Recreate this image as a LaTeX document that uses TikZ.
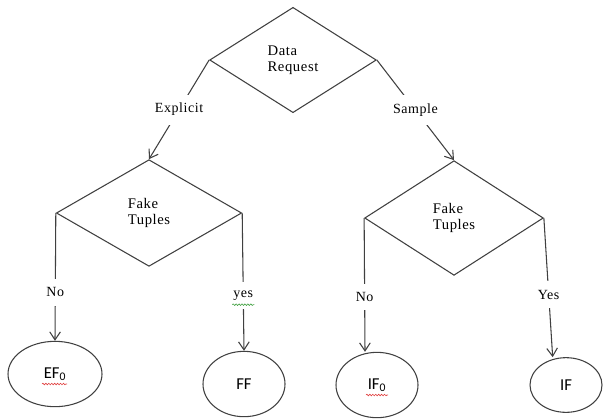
\documentclass[tikz,border=0pt]{standalone}
\usepackage{fontspec}
\setmainfont{Liberation Serif}[LetterSpace=4]
\newfontfamily\leaffont{Carlito}
\usetikzlibrary{shapes.geometric, arrows.meta, decorations.pathmorphing}
\definecolor{linegray}{HTML}{404040}
\definecolor{spellred}{HTML}{E04040}
\definecolor{spellgreen}{HTML}{40A040}
\tikzset{
  decision/.style={diamond, draw=linegray, line width=0.8pt, inner sep=0pt, align=left, font=\fontsize{11}{12}\selectfont},
  leaf/.style={ellipse, draw=linegray, line width=0.8pt, inner sep=0pt, font=\leaffont\fontsize{12.5}{13}\selectfont},
  flow/.style={draw=linegray, line width=0.8pt, -{Straight Barb[length=6pt,width=8pt]}},
  branch/.style={fill=white, inner xsep=2pt, inner ysep=6.5pt, font=\fontsize{10.5}{12}\selectfont},
  squiggle/.style={decorate, decoration={snake, amplitude=0.6pt, segment length=2.2pt}, line width=0.45pt}
}

\begin{document}
\begin{tikzpicture}[x=0.75pt, y=-0.75pt]
  \useasboundingbox (0,0) rectangle (603,419);
  % Entscheidungen
  \node[decision, minimum width=125pt, minimum height=79pt] (req) at (293,60) {Data\\Request};
  \node[decision, minimum width=139pt, minimum height=80pt] (ftleft) at (149,213) {Fake\\Tuples};
  \node[decision, minimum width=134pt, minimum height=86pt] (ftright) at (454,218) {Fake\\Tuples};
  % Ergebnisse
  \node[leaf, minimum width=70.5pt, minimum height=49pt] (efnull) at (55,374) {EF\textsubscript{0}};
  \node[leaf, minimum width=61.5pt, minimum height=49pt] (ff) at (244,384) {FF};
  \node[leaf, minimum width=61.5pt, minimum height=49pt] (ifnull) at (377,385) {IF\textsubscript{0}};
  \node[leaf, minimum width=54pt, minimum height=41pt] (ifleaf) at (566,385) {IF};
  % Verbindungen
  \draw[flow] (req.west) -- node[branch] {Explicit} (ftleft.north);
  \draw[flow] (req.east) -- node[branch] {Sample} (ftright.north);
  \draw[flow] (ftleft.west) -- node[branch, pos=0.62] {No} (efnull.north);
  \draw[flow] (ftleft.east) -- node[branch, pos=0.6] (yeslbl) {yes} (ff.north);
  \draw[flow] (ftright.west) -- node[branch, pos=0.59] {No} ([xshift=-9pt]ifnull.north);
  \draw[flow] (ftright.east) -- node[branch, pos=0.55] {Yes} ([xshift=-10pt]ifleaf.north);
  % Rechtschreib-Kringel
  \draw[squiggle, spellred] ([shift={(-13,10)}]efnull.center) -- ([shift={(12,10)}]efnull.center);
  \draw[squiggle, spellred] ([shift={(-11,10)}]ifnull.center) -- ([shift={(11,10)}]ifnull.center);
  \draw[squiggle, spellgreen] ([shift={(-11,-5)}]yeslbl.south) -- ([shift={(11,-5)}]yeslbl.south);
\end{tikzpicture}
\end{document}
